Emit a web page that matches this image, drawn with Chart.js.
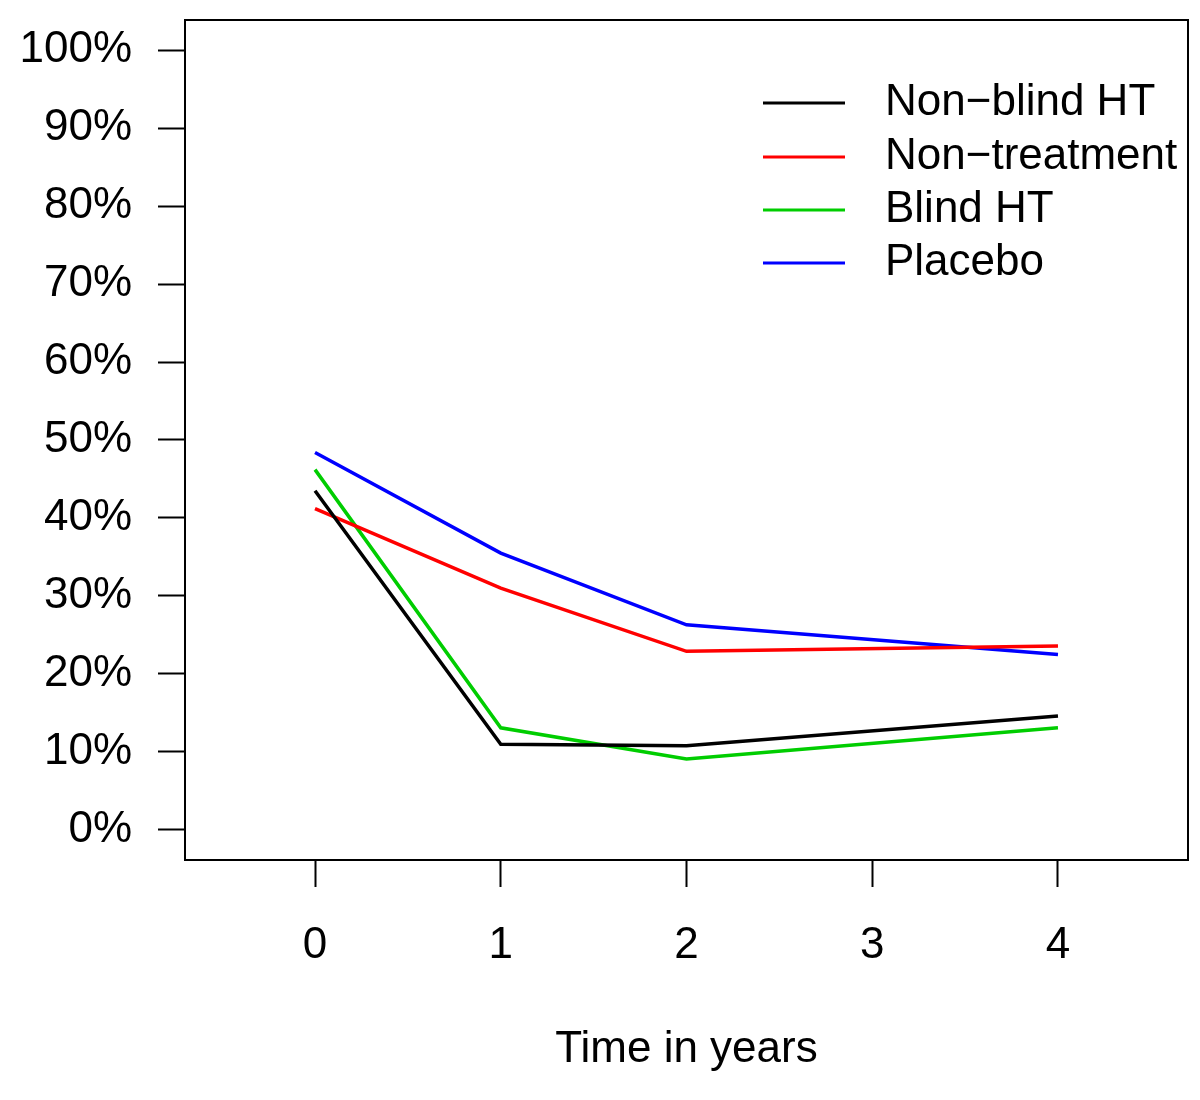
<!DOCTYPE html>
<html>
<head>
<meta charset="utf-8">
<script src="https://cdn.jsdelivr.net/npm/chart.js@4/dist/chart.umd.min.js"></script>
<style>
  html, body { margin: 0; padding: 0; background: #fff; }
  #wrap { width: 1200px; height: 1100px; }
</style>
</head>
<body>
<div id="wrap"><canvas id="chart" width="1200" height="1100"></canvas></div>
<script>
// Data (percent)
const years = [0, 1, 2, 4];
const nonBlindHT = [43.5, 11.0, 10.8, 14.6];
const nonTreatment = [41.2, 31.0, 22.9, 23.6];
const blindHT = [46.2, 13.1, 9.1, 13.1];
const placebo = [48.4, 35.5, 26.3, 22.5];

const seriesNames = ['Non\u2212blind HT', 'Non\u2212treatment', 'Blind HT', 'Placebo'];
const seriesColors = ['#000000', '#ff0000', '#00cd00', '#0000ff'];

const xTicks = [0, 1, 2, 3, 4];
const yTicks = [0, 10, 20, 30, 40, 50, 60, 70, 80, 90, 100];

const fontFamily = '"Liberation Sans", Arial, Helvetica, sans-serif';
const fontSize = 44;

function toPoints(values) {
    return values.map((v, i) => ({ x: years[i], y: v }));
}

// Box around the plot area, like R's box()
const boxPlugin = {
    id: 'box',
    afterDraw(chart) {
        const a = chart.chartArea;
        const ctx = chart.ctx;
        ctx.save();
        ctx.strokeStyle = '#000';
        ctx.lineWidth = 2;
        ctx.strokeRect(a.left, a.top, a.right - a.left, a.bottom - a.top);
        ctx.restore();
    }
};

// Legend inside the plot, top right, no frame
const legendPlugin = {
    id: 'rLegend',
    afterDraw(chart) {
        const ctx = chart.ctx;
        const lineX0 = 763, lineX1 = 845, textX = 885;
        const rowY = [103, 157, 210, 263];
        ctx.save();
        ctx.font = fontSize + 'px ' + fontFamily;
        ctx.textBaseline = 'middle';
        ctx.textAlign = 'left';
        chart.data.datasets.forEach((ds, i) => {
            ctx.strokeStyle = ds.borderColor;
            ctx.lineWidth = 3;
            ctx.beginPath();
            ctx.moveTo(lineX0, rowY[i]);
            ctx.lineTo(lineX1, rowY[i]);
            ctx.stroke();
            ctx.fillStyle = '#000';
            ctx.fillText(ds.label, textX, rowY[i]);
        });
        ctx.restore();
    }
};

const datasets = [nonBlindHT, nonTreatment, blindHT, placebo].map((vals, i) => ({
    label: seriesNames[i],
    data: toPoints(vals),
    borderColor: seriesColors[i],
    backgroundColor: seriesColors[i],
    borderWidth: 3.5,
    pointRadius: 0,
    tension: 0,
    fill: false
}));

new Chart(document.getElementById('chart').getContext('2d'), {
    type: 'line',
    data: { datasets: datasets },
    options: {
        responsive: false,
        animation: false,
        layout: { padding: { top: 20, right: 12, bottom: 0, left: 0 } },
        plugins: {
            legend: { display: false },
            tooltip: { enabled: false }
        },
        scales: {
            x: {
                type: 'linear',
                min: -0.7,
                max: 4.7,
                afterBuildTicks: axis => { axis.ticks = xTicks.map(v => ({ value: v })); },
                afterFit: axis => {
                    axis.height = 240;
                    axis.paddingLeft = 0;
                    axis.paddingRight = 0;
                },
                grid: {
                    drawOnChartArea: false,
                    drawTicks: true,
                    tickLength: 27,
                    tickWidth: 2,
                    tickColor: '#000'
                },
                border: { display: true, color: '#000', width: 2 },
                ticks: {
                    color: '#000',
                    font: { family: fontFamily, size: fontSize },
                    padding: 32,
                    maxRotation: 0,
                    callback: v => String(v)
                },
                title: {
                    display: true,
                    text: 'Time in years',
                    color: '#000',
                    font: { family: fontFamily, size: fontSize },
                    padding: { top: 0, bottom: 24 }
                }
            },
            y: {
                type: 'linear',
                min: -3.85,
                max: 103.85,
                afterBuildTicks: axis => { axis.ticks = yTicks.map(v => ({ value: v })); },
                afterFit: axis => {
                    axis.width = 185;
                    axis.paddingTop = 0;
                    axis.paddingBottom = 0;
                },
                grid: {
                    drawOnChartArea: false,
                    drawTicks: true,
                    tickLength: 27,
                    tickWidth: 2,
                    tickColor: '#000'
                },
                border: { display: true, color: '#000', width: 2 },
                ticks: {
                    color: '#000',
                    font: { family: fontFamily, size: fontSize },
                    padding: 26,
                    callback: v => v + '%'
                }
            }
        }
    },
    plugins: [boxPlugin, legendPlugin]
});
</script>
</body>
</html>
